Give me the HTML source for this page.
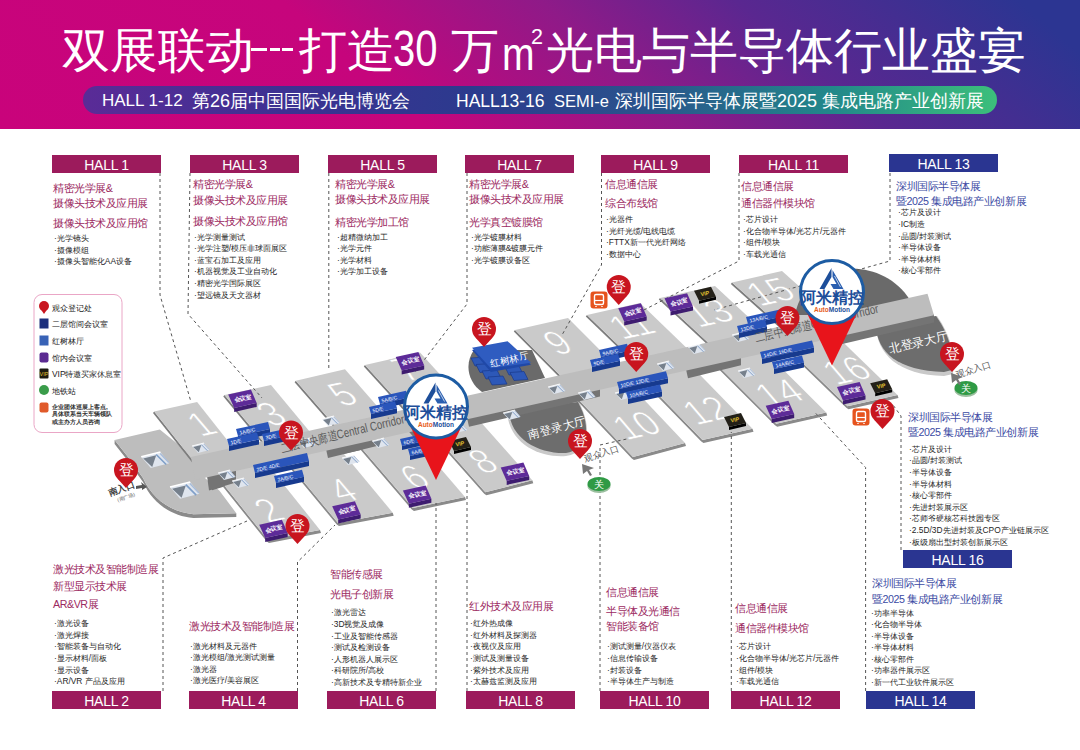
<!DOCTYPE html>
<html><head><meta charset="utf-8">
<style>
*{margin:0;padding:0;box-sizing:border-box}
html,body{width:1080px;height:750px;overflow:hidden;background:#fff;font-family:"Liberation Sans",sans-serif}
#hdr{position:absolute;left:0;top:0;width:1080px;height:129px;background:linear-gradient(41deg,#c9037b 0%,#c6057c 35%,#8f1a88 56%,#5a2790 72%,#2c3592 95%)}
#title span{position:absolute;top:27px;white-space:nowrap;color:#fff;font-size:47.5px;line-height:47.5px}
#title i{position:absolute;top:47.5px;height:3.2px;background:#fff}
#title .dg{font-size:50px;transform:scaleX(.8);transform-origin:0 0;top:24px;line-height:50px}
#title .m{font-size:46px;top:31px;line-height:46px;transform:scaleX(.85);transform-origin:0 0}
#title .sq{font-size:21.6px;top:26px;line-height:21.6px}
#pill{position:absolute;left:83px;top:86px;width:914px;height:28px;border-radius:14px;background:linear-gradient(90deg,#5a2b97 0%,#3d3192 22%,#2c3a8e 42%,#2a548c 62%,#22888a 82%,#3cbf7b 100%)}
#pill span{position:absolute;top:1px;line-height:28px;color:#fff;font-size:18px;white-space:nowrap}
.lab{position:absolute;width:109px;height:18px;color:#fff;font-size:14px;line-height:20px;overflow:hidden;letter-spacing:-0.3px;text-align:center;background:#9c1b5c}
.lab.b{background:#2a3591}
.t{position:absolute;white-space:nowrap;color:#9c2a5f;font-size:10.7px;line-height:14px;letter-spacing:-0.44px}
.t.b{color:#3b4aa3}
.it{position:absolute;white-space:nowrap;color:#1e1e1e;font-size:8.4px;line-height:11.6px}
svg{position:absolute;left:0;top:0}
</style></head><body>
<div id="hdr"></div>
<div id="title"><span style="left:62px">双展联动</span><i style="left:251px;width:16px"></i><i style="left:269.5px;width:10.5px"></i><i style="left:282px;width:10.5px"></i><span style="left:299px">打造</span><span class="dg" style="left:393px">30</span><span style="left:451px">万</span><span class="m" style="left:502px">m</span><span class="sq" style="left:531px">2</span><span style="left:546px">光电与半导体行业盛宴</span></div>
<div id="pill"><span style="left:19px;font-size:17px">HALL 1-12</span><span style="left:109px">第26届中国国际光电博览会</span><span style="left:373px;font-size:17.5px">HALL13-16</span><span style="left:471px;font-size:16.5px">SEMI-e</span><span style="left:532px">深圳国际半导体展暨2025 集成电路产业创新展</span></div>

<svg width="1080" height="750" viewBox="0 0 1080 750" style="position:absolute;left:0;top:0">
<path d="M114.6,440 L114.6,444 L128,461 L143,482 C152,502 170,516 193.4,518 L236.3,517 L236.3,513.2 L193.4,514.2 C170,512 152,498 143,478 L128,457 Z" fill="#8a8a8a"/>
<path d="M114.6,440 L159.8,429.6 L195,458 L205,478 L219.5,490.8 L236.3,513.2 L193.4,514.2 C170,512 152,498 143,478 L128,457 Z" fill="#bdbdbd"/>
<polygon points="153.0,413.0 154.2,411.5 195.7,464.0 194.5,465.5" fill="#7d7d7d"/>
<polygon points="154.2,411.5 197.1,402.1 238.6,454.6 195.7,464.0" fill="#cacaca"/>
<polygon points="223.3,396.5 224.5,395.0 268.5,448.0 267.3,449.5" fill="#7d7d7d"/>
<polygon points="224.5,395.0 271.0,385.0 315.0,438.0 268.5,448.0" fill="#cacaca"/>
<polygon points="294.6,382.3 295.8,380.8 340.6,432.3 339.4,433.8" fill="#7d7d7d"/>
<polygon points="295.8,380.8 345.0,369.2 390.3,421.2 340.6,432.3" fill="#cacaca"/>
<polygon points="363.8,366.5 365.0,365.0 411.9,416.5 410.7,418.0" fill="#7d7d7d"/>
<polygon points="365.0,365.0 420.0,352.5 466.9,404.0 411.9,416.5" fill="#cacaca"/>
<polygon points="513.8,331.5 515.0,330.0 566.8,382.0 565.6,383.5" fill="#7d7d7d"/>
<polygon points="515.0,330.0 568.0,318.0 619.8,370.0 566.8,382.0" fill="#cacaca"/>
<polygon points="585.8,316.5 587.0,315.0 639.9,366.0 638.7,367.5" fill="#7d7d7d"/>
<polygon points="587.0,315.0 640.0,303.0 692.9,354.0 639.9,366.0" fill="#cacaca"/>
<polygon points="658.8,299.5 660.0,298.0 715.0,349.0 713.8,350.5" fill="#7d7d7d"/>
<polygon points="660.0,298.0 715.0,286.0 770.0,337.0 715.0,349.0" fill="#cacaca"/>
<polygon points="730.8,284.0 732.0,282.5 788.5,333.0 787.3,334.5" fill="#7d7d7d"/>
<polygon points="732.0,282.5 782.0,271.0 838.5,321.5 788.5,333.0" fill="#cacaca"/>
<path d="M795,315 C805,260 880,253 910,300 L910,315 Z" fill="#6a6a6a"/>
<path d="M474,350 C464,364 468,382 482,392 L545,378 L532,350 Z" fill="#6a6a6a"/>
<path d="M507,410 C508,444 540,458 566,456 C587,453 594,432 579,402 Z" fill="#c9c9c9"/>
<path d="M509,410 C510,440 540,454 566,453 C586,450 593,430 578,402 Z" fill="#6d6d6d"/>
<path d="M876,326 C877,354 898,375 944,376 L953,374 C954,352 951,336 937,316 Z" fill="#c9c9c9"/>
<path d="M876,326 C877,352 898,371 944,372 L952,370 C953,352 950,336 936,316 Z" fill="#6d6d6d"/>
<polygon points="207.0,475.5 934.0,315.3 934.0,321.3 236.0,478.0 236.0,483.0 212.0,490.3" fill="#747474"/>
<polygon points="213.6,475.0 266.8,541.5 269.0,543.0 321.0,533.0 320.0,530.0 268.0,540.0 214.8,473.5" fill="#8a8a8a"/>
<polygon points="214.8,473.5 265.6,462.0 320.0,530.0 268.0,540.0" fill="#cacaca"/>
<polygon points="283.0,459.5 336.8,524.5 339.0,526.0 393.7,515.7 392.7,512.7 338.0,523.0 284.2,458.0" fill="#8a8a8a"/>
<polygon points="284.2,458.0 337.6,446.2 392.7,512.7 338.0,523.0" fill="#cacaca"/>
<polygon points="355.2,443.4 411.8,509.4 414.0,510.9 466.0,500.0 465.0,497.0 413.0,507.9 356.4,441.9" fill="#8a8a8a"/>
<polygon points="356.4,441.9 407.9,430.5 465.0,497.0 413.0,507.9" fill="#cacaca"/>
<polygon points="425.7,427.7 484.2,493.7 486.4,495.2 533.3,483.2 532.3,480.2 485.4,492.2 426.9,426.2" fill="#8a8a8a"/>
<polygon points="426.9,426.2 475.1,415.7 532.3,480.2 485.4,492.2" fill="#cacaca"/>
<polygon points="572.2,395.5 631.8,458.5 634.0,460.0 686.0,446.0 685.0,443.0 633.0,457.0 573.4,394.0" fill="#8a8a8a"/>
<polygon points="573.4,394.0 627.3,382.0 685.0,443.0 633.0,457.0" fill="#cacaca"/>
<polygon points="641.4,380.0 701.3,441.5 703.5,443.0 753.5,431.8 752.5,428.8 702.5,440.0 642.6,378.5" fill="#8a8a8a"/>
<polygon points="642.6,378.5 692.6,367.2 752.5,428.8 702.5,440.0" fill="#cacaca"/>
<polygon points="713.8,364.2 775.0,425.2 777.2,426.8 827.2,415.5 826.2,412.5 776.2,423.8 715.0,362.8" fill="#8a8a8a"/>
<polygon points="715.0,362.8 765.0,351.5 826.2,412.5 776.2,423.8" fill="#cacaca"/>
<polygon points="784.9,348.2 846.3,407.8 848.5,409.2 898.5,398.0 897.5,395.0 847.5,406.2 786.1,346.8" fill="#8a8a8a"/>
<polygon points="786.1,346.8 836.1,335.5 897.5,395.0 847.5,406.2" fill="#cacaca"/>
<polygon points="207.0,475.5 236.0,469.0 236.0,482.5 209.0,490.5" fill="#747474"/>
<polygon points="326.0,449.1 381.0,436.9 381.0,445.0 328.0,458.1" fill="#747474"/>
<polygon points="467.0,417.8 600.0,388.3 600.0,396.4 469.0,426.8" fill="#747474"/>
<polygon points="686.0,369.3 741.0,357.1 741.0,365.2 688.0,378.3" fill="#747474"/>
<polygon points="835.0,336.2 934.0,314.3 934.0,322.4 837.0,345.2" fill="#747474"/>
<polygon points="191.0,457.0 927.5,293.7 934.0,315.3 195.0,480.0" fill="#bdbdbd"/>
<polygon points="471.0,358.0 486.0,357.0 490.0,365.0 475.0,366.0" fill="#2d58b8" stroke="#1a3a8a" stroke-width="0.7"/>
<polygon points="476.0,364.5 491.0,363.5 495.0,371.5 480.0,372.5" fill="#2d58b8" stroke="#1a3a8a" stroke-width="0.7"/>
<polygon points="482.0,371.0 497.0,370.0 501.0,378.0 486.0,379.0" fill="#2d58b8" stroke="#1a3a8a" stroke-width="0.7"/>
<polygon points="488.0,377.0 503.0,376.0 507.0,384.0 492.0,385.0" fill="#2d58b8" stroke="#1a3a8a" stroke-width="0.7"/>
<polygon points="505.0,367.0 519.0,366.0 523.0,374.0 509.0,375.0" fill="#2d58b8" stroke="#1a3a8a" stroke-width="0.7"/>
<polygon points="510.0,372.5 524.0,371.5 528.0,379.5 514.0,380.5" fill="#2d58b8" stroke="#1a3a8a" stroke-width="0.7"/>
<polygon points="472,350 507.6,343.2 531,364.7 490.8,372" fill="#1f48a8"/>
<polygon points="472,347.7 507.6,341.2 531,362.7 490.8,368.3" fill="#2f5cc0"/>
<text x="0" y="0" transform="translate(491,367) rotate(-13)" font-size="9.5" fill="#fff" font-family="Liberation Sans, sans-serif">红树林厅</text>
<polyline points="160.0,173.0 160.0,295.0 191.0,402.0" fill="none" stroke="#555" stroke-width="1" stroke-dasharray="3,3"/>
<polyline points="190.0,173.0 188.0,314.0 262.0,398.0" fill="none" stroke="#555" stroke-width="1" stroke-dasharray="3,3"/>
<polyline points="328.8,173.0 328.8,370.0" fill="none" stroke="#555" stroke-width="1" stroke-dasharray="3,3"/>
<polyline points="467.0,173.0 467.0,304.0 415.0,372.0" fill="none" stroke="#555" stroke-width="1" stroke-dasharray="3,3"/>
<polyline points="601.5,173.0 601.5,265.0 562.0,335.0" fill="none" stroke="#555" stroke-width="1" stroke-dasharray="3,3"/>
<polyline points="739.0,173.0 739.0,261.0 640.0,312.0" fill="none" stroke="#555" stroke-width="1" stroke-dasharray="3,3"/>
<polyline points="890.0,173.0 890.0,261.0 714.0,310.0" fill="none" stroke="#555" stroke-width="1" stroke-dasharray="3,3"/>
<polyline points="163.0,691.0 163.0,558.0 247.0,521.0" fill="none" stroke="#555" stroke-width="1" stroke-dasharray="3,3"/>
<polyline points="297.5,691.0 297.5,562.0 335.0,525.0" fill="none" stroke="#555" stroke-width="1" stroke-dasharray="3,3"/>
<polyline points="436.0,691.0 436.0,503.0" fill="none" stroke="#555" stroke-width="1" stroke-dasharray="3,3"/>
<polyline points="467.0,691.0 467.0,480.0" fill="none" stroke="#555" stroke-width="1" stroke-dasharray="3,3"/>
<polyline points="600.0,691.0 600.0,445.0 640.0,436.0" fill="none" stroke="#555" stroke-width="1" stroke-dasharray="3,3"/>
<polyline points="731.3,691.0 731.3,432.0" fill="none" stroke="#555" stroke-width="1" stroke-dasharray="3,3"/>
<polyline points="865.6,691.0 865.6,467.5 815.0,412.5" fill="none" stroke="#555" stroke-width="1" stroke-dasharray="3,3"/>
<polyline points="901.0,550.0 901.0,416.0 893.0,405.0" fill="none" stroke="#555" stroke-width="1" stroke-dasharray="3,3"/>
<text transform="matrix(1.12,-0.24,0.85,1,210.5,434.75)" font-size="31" fill="#ffffff" stroke="#cacaca" stroke-width="0.6" text-anchor="middle" font-family="Liberation Sans, sans-serif">1</text>
<text transform="matrix(1.12,-0.24,0.85,1,280.5,424.75)" font-size="31" fill="#ffffff" stroke="#cacaca" stroke-width="0.6" text-anchor="middle" font-family="Liberation Sans, sans-serif">3</text>
<text transform="matrix(1.12,-0.24,0.85,1,351.75,404.75)" font-size="31" fill="#ffffff" stroke="#cacaca" stroke-width="0.6" text-anchor="middle" font-family="Liberation Sans, sans-serif">5</text>
<text transform="matrix(1.12,-0.24,0.85,1,278,521)" font-size="31" fill="#ffffff" stroke="#cacaca" stroke-width="0.6" text-anchor="middle" font-family="Liberation Sans, sans-serif">2</text>
<text transform="matrix(1.12,-0.24,0.85,1,351.75,501)" font-size="31" fill="#ffffff" stroke="#cacaca" stroke-width="0.6" text-anchor="middle" font-family="Liberation Sans, sans-serif">4</text>
<text transform="matrix(1.12,-0.24,0.85,1,423.5,487.6)" font-size="31" fill="#ffffff" stroke="#cacaca" stroke-width="0.6" text-anchor="middle" font-family="Liberation Sans, sans-serif">6</text>
<text transform="matrix(1.12,-0.24,0.85,1,492,472)" font-size="31" fill="#ffffff" stroke="#cacaca" stroke-width="0.6" text-anchor="middle" font-family="Liberation Sans, sans-serif">8</text>
<text transform="matrix(1.12,-0.24,0.85,1,415.5,379.75)" font-size="31" fill="#ffffff" stroke="#cacaca" stroke-width="0.6" text-anchor="middle" font-family="Liberation Sans, sans-serif">7</text>
<text transform="matrix(1.12,-0.24,0.85,1,566.75,353.5)" font-size="31" fill="#ffffff" stroke="#cacaca" stroke-width="0.6" text-anchor="middle" font-family="Liberation Sans, sans-serif">9</text>
<text transform="matrix(1.12,-0.24,0.85,1,645.5,436)" font-size="31" fill="#ffffff" stroke="#cacaca" stroke-width="0.6" text-anchor="middle" font-family="Liberation Sans, sans-serif">10</text>
<text transform="matrix(1.12,-0.24,0.85,1,640.5,336)" font-size="31" fill="#ffffff" stroke="#cacaca" stroke-width="0.6" text-anchor="middle" font-family="Liberation Sans, sans-serif">11</text>
<text transform="matrix(1.12,-0.24,0.85,1,715.5,421)" font-size="31" fill="#ffffff" stroke="#cacaca" stroke-width="0.6" text-anchor="middle" font-family="Liberation Sans, sans-serif">12</text>
<text transform="matrix(1.12,-0.24,0.85,1,718,323.5)" font-size="31" fill="#ffffff" stroke="#cacaca" stroke-width="0.6" text-anchor="middle" font-family="Liberation Sans, sans-serif">13</text>
<text transform="matrix(1.12,-0.24,0.85,1,788,403.5)" font-size="31" fill="#ffffff" stroke="#cacaca" stroke-width="0.6" text-anchor="middle" font-family="Liberation Sans, sans-serif">14</text>
<text transform="matrix(1.12,-0.24,0.85,1,779.25,302.25)" font-size="31" fill="#ffffff" stroke="#cacaca" stroke-width="0.6" text-anchor="middle" font-family="Liberation Sans, sans-serif">15</text>
<text transform="matrix(1.12,-0.24,0.85,1,855.5,381)" font-size="31" fill="#ffffff" stroke="#cacaca" stroke-width="0.6" text-anchor="middle" font-family="Liberation Sans, sans-serif">16</text>
<polygon points="141.2,456.8 160.4,452.0 169.2,463.2 150.8,468.0" fill="#dfe5ee"/>
<polygon points="143.2,458.5 156.2,455.2 152.2,467.0" fill="#76808c"/>
<polyline points="156.2,454.5 166.2,464.5" fill="none" stroke="#7f9fc8" stroke-width="1.6"/>
<polyline points="160.2,453.5 168.7,462.5" fill="none" stroke="#a8bcd8" stroke-width="1.4"/>
<polyline points="141.2,456.8 160.4,452.0" fill="none" stroke="#fff" stroke-width="1.4"/>
<polygon points="170.0,487.0 190.2,482.0 199.4,493.8 180.1,498.8" fill="#dfe5ee"/>
<polygon points="172.1,488.8 185.8,485.4 181.6,497.8" fill="#76808c"/>
<polyline points="185.8,484.6 196.2,495.1" fill="none" stroke="#7f9fc8" stroke-width="1.6800000000000002"/>
<polyline points="189.9,483.6 198.9,493.0" fill="none" stroke="#a8bcd8" stroke-width="1.47"/>
<polyline points="170.0,487.0 190.2,482.0" fill="none" stroke="#fff" stroke-width="1.47"/>
<polygon points="192.0,446.0 203.9,443.0 209.4,449.9 198.0,452.9" fill="#dfe5ee"/>
<polygon points="193.2,447.0 201.3,445.0 198.8,452.3" fill="#76808c"/>
<polyline points="201.3,444.6 207.5,450.8" fill="none" stroke="#7f9fc8" stroke-width="0.992"/>
<polyline points="203.8,443.9 209.1,449.5" fill="none" stroke="#a8bcd8" stroke-width="0.868"/>
<polyline points="192.0,446.0 203.9,443.0" fill="none" stroke="#fff" stroke-width="0.868"/>
<polygon points="218.0,473.0 229.9,470.0 235.4,476.9 224.0,479.9" fill="#dfe5ee"/>
<polygon points="219.2,474.0 227.3,472.0 224.8,479.3" fill="#76808c"/>
<polyline points="227.3,471.6 233.5,477.8" fill="none" stroke="#7f9fc8" stroke-width="0.992"/>
<polyline points="229.8,470.9 235.1,476.5" fill="none" stroke="#a8bcd8" stroke-width="0.868"/>
<polyline points="218.0,473.0 229.9,470.0" fill="none" stroke="#fff" stroke-width="0.868"/>
<polygon points="232.0,481.0 243.9,478.0 249.4,484.9 238.0,487.9" fill="#dfe5ee"/>
<polygon points="233.2,482.0 241.3,480.0 238.8,487.3" fill="#76808c"/>
<polyline points="241.3,479.6 247.5,485.8" fill="none" stroke="#7f9fc8" stroke-width="0.992"/>
<polyline points="243.8,478.9 249.1,484.5" fill="none" stroke="#a8bcd8" stroke-width="0.868"/>
<polyline points="232.0,481.0 243.9,478.0" fill="none" stroke="#fff" stroke-width="0.868"/>
<polygon points="298.0,441.0 309.9,438.0 315.4,444.9 304.0,447.9" fill="#dfe5ee"/>
<polygon points="299.2,442.0 307.3,440.0 304.8,447.3" fill="#76808c"/>
<polyline points="307.3,439.6 313.5,445.8" fill="none" stroke="#7f9fc8" stroke-width="0.992"/>
<polyline points="309.8,438.9 315.1,444.5" fill="none" stroke="#a8bcd8" stroke-width="0.868"/>
<polyline points="298.0,441.0 309.9,438.0" fill="none" stroke="#fff" stroke-width="0.868"/>
<polygon points="322.0,419.0 333.9,416.0 339.4,422.9 328.0,425.9" fill="#dfe5ee"/>
<polygon points="323.2,420.0 331.3,418.0 328.8,425.3" fill="#76808c"/>
<polyline points="331.3,417.6 337.5,423.8" fill="none" stroke="#7f9fc8" stroke-width="0.992"/>
<polyline points="333.8,416.9 339.1,422.5" fill="none" stroke="#a8bcd8" stroke-width="0.868"/>
<polyline points="322.0,419.0 333.9,416.0" fill="none" stroke="#fff" stroke-width="0.868"/>
<polygon points="342.0,458.0 353.9,455.0 359.4,461.9 348.0,464.9" fill="#dfe5ee"/>
<polygon points="343.2,459.0 351.3,457.0 348.8,464.3" fill="#76808c"/>
<polyline points="351.3,456.6 357.5,462.8" fill="none" stroke="#7f9fc8" stroke-width="0.992"/>
<polyline points="353.8,455.9 359.1,461.5" fill="none" stroke="#a8bcd8" stroke-width="0.868"/>
<polyline points="342.0,458.0 353.9,455.0" fill="none" stroke="#fff" stroke-width="0.868"/>
<polygon points="372.0,441.0 383.9,438.0 389.4,444.9 378.0,447.9" fill="#dfe5ee"/>
<polygon points="373.2,442.0 381.3,440.0 378.8,447.3" fill="#76808c"/>
<polyline points="381.3,439.6 387.5,445.8" fill="none" stroke="#7f9fc8" stroke-width="0.992"/>
<polyline points="383.8,438.9 389.1,444.5" fill="none" stroke="#a8bcd8" stroke-width="0.868"/>
<polyline points="372.0,441.0 383.9,438.0" fill="none" stroke="#fff" stroke-width="0.868"/>
<polygon points="450.0,426.0 461.9,423.0 467.4,429.9 456.0,432.9" fill="#dfe5ee"/>
<polygon points="451.2,427.0 459.3,425.0 456.8,432.3" fill="#76808c"/>
<polyline points="459.3,424.6 465.5,430.8" fill="none" stroke="#7f9fc8" stroke-width="0.992"/>
<polyline points="461.8,423.9 467.1,429.5" fill="none" stroke="#a8bcd8" stroke-width="0.868"/>
<polyline points="450.0,426.0 461.9,423.0" fill="none" stroke="#fff" stroke-width="0.868"/>
<polygon points="503.0,413.0 514.9,410.0 520.4,416.9 509.0,419.9" fill="#dfe5ee"/>
<polygon points="504.2,414.0 512.3,412.0 509.8,419.3" fill="#76808c"/>
<polyline points="512.3,411.6 518.5,417.8" fill="none" stroke="#7f9fc8" stroke-width="0.992"/>
<polyline points="514.8,410.9 520.0,416.5" fill="none" stroke="#a8bcd8" stroke-width="0.868"/>
<polyline points="503.0,413.0 514.9,410.0" fill="none" stroke="#fff" stroke-width="0.868"/>
<polygon points="578.0,393.0 589.9,390.0 595.4,396.9 584.0,399.9" fill="#dfe5ee"/>
<polygon points="579.2,394.0 587.3,392.0 584.8,399.3" fill="#76808c"/>
<polyline points="587.3,391.6 593.5,397.8" fill="none" stroke="#7f9fc8" stroke-width="0.992"/>
<polyline points="589.8,390.9 595.0,396.5" fill="none" stroke="#a8bcd8" stroke-width="0.868"/>
<polyline points="578.0,393.0 589.9,390.0" fill="none" stroke="#fff" stroke-width="0.868"/>
<polygon points="548.0,387.0 559.9,384.0 565.4,390.9 554.0,393.9" fill="#dfe5ee"/>
<polygon points="549.2,388.0 557.3,386.0 554.8,393.3" fill="#76808c"/>
<polyline points="557.3,385.6 563.5,391.8" fill="none" stroke="#7f9fc8" stroke-width="0.992"/>
<polyline points="559.8,384.9 565.0,390.5" fill="none" stroke="#a8bcd8" stroke-width="0.868"/>
<polyline points="548.0,387.0 559.9,384.0" fill="none" stroke="#fff" stroke-width="0.868"/>
<polygon points="596.0,359.0 607.9,356.0 613.4,362.9 602.0,365.9" fill="#dfe5ee"/>
<polygon points="597.2,360.0 605.3,358.0 602.8,365.3" fill="#76808c"/>
<polyline points="605.3,357.6 611.5,363.8" fill="none" stroke="#7f9fc8" stroke-width="0.992"/>
<polyline points="607.8,356.9 613.0,362.5" fill="none" stroke="#a8bcd8" stroke-width="0.868"/>
<polyline points="596.0,359.0 607.9,356.0" fill="none" stroke="#fff" stroke-width="0.868"/>
<polygon points="615.0,393.0 626.9,390.0 632.4,396.9 621.0,399.9" fill="#dfe5ee"/>
<polygon points="616.2,394.0 624.3,392.0 621.8,399.3" fill="#76808c"/>
<polyline points="624.3,391.6 630.5,397.8" fill="none" stroke="#7f9fc8" stroke-width="0.992"/>
<polyline points="626.8,390.9 632.0,396.5" fill="none" stroke="#a8bcd8" stroke-width="0.868"/>
<polyline points="615.0,393.0 626.9,390.0" fill="none" stroke="#fff" stroke-width="0.868"/>
<polygon points="657.0,364.0 668.9,361.0 674.4,367.9 663.0,370.9" fill="#dfe5ee"/>
<polygon points="658.2,365.0 666.3,363.0 663.8,370.3" fill="#76808c"/>
<polyline points="666.3,362.6 672.5,368.8" fill="none" stroke="#7f9fc8" stroke-width="0.992"/>
<polyline points="668.8,361.9 674.0,367.5" fill="none" stroke="#a8bcd8" stroke-width="0.868"/>
<polyline points="657.0,364.0 668.9,361.0" fill="none" stroke="#fff" stroke-width="0.868"/>
<polygon points="688.0,347.0 699.9,344.0 705.4,350.9 694.0,353.9" fill="#dfe5ee"/>
<polygon points="689.2,348.0 697.3,346.0 694.8,353.3" fill="#76808c"/>
<polyline points="697.3,345.6 703.5,351.8" fill="none" stroke="#7f9fc8" stroke-width="0.992"/>
<polyline points="699.8,344.9 705.0,350.5" fill="none" stroke="#a8bcd8" stroke-width="0.868"/>
<polyline points="688.0,347.0 699.9,344.0" fill="none" stroke="#fff" stroke-width="0.868"/>
<polygon points="732.0,335.0 743.9,332.0 749.4,338.9 738.0,341.9" fill="#dfe5ee"/>
<polygon points="733.2,336.0 741.3,334.0 738.8,341.3" fill="#76808c"/>
<polyline points="741.3,333.6 747.5,339.8" fill="none" stroke="#7f9fc8" stroke-width="0.992"/>
<polyline points="743.8,332.9 749.0,338.5" fill="none" stroke="#a8bcd8" stroke-width="0.868"/>
<polyline points="732.0,335.0 743.9,332.0" fill="none" stroke="#fff" stroke-width="0.868"/>
<polygon points="738.0,371.0 749.9,368.0 755.4,374.9 744.0,377.9" fill="#dfe5ee"/>
<polygon points="739.2,372.0 747.3,370.0 744.8,377.3" fill="#76808c"/>
<polyline points="747.3,369.6 753.5,375.8" fill="none" stroke="#7f9fc8" stroke-width="0.992"/>
<polyline points="749.8,368.9 755.0,374.5" fill="none" stroke="#a8bcd8" stroke-width="0.868"/>
<polyline points="738.0,371.0 749.9,368.0" fill="none" stroke="#fff" stroke-width="0.868"/>
<polygon points="810.0,320.0 821.9,317.0 827.4,323.9 816.0,326.9" fill="#dfe5ee"/>
<polygon points="811.2,321.0 819.3,319.0 816.8,326.3" fill="#76808c"/>
<polyline points="819.3,318.6 825.5,324.8" fill="none" stroke="#7f9fc8" stroke-width="0.992"/>
<polyline points="821.8,317.9 827.0,323.5" fill="none" stroke="#a8bcd8" stroke-width="0.868"/>
<polyline points="810.0,320.0 821.9,317.0" fill="none" stroke="#fff" stroke-width="0.868"/>
<polygon points="238.0,436.0 270.0,429.0 270.0,434.0 238.0,441.0" fill="#173a8f"/>
<polygon points="236.0,429.0 268.0,422.0 270.0,429.0 238.0,436.0" fill="#2a55bb"/>
<text transform="translate(240,434.5) rotate(-12.5)" font-size="5" fill="#fff" font-family="Liberation Sans, sans-serif">1A/B/C</text>
<polygon points="229.0,446.0 259.0,439.4 259.0,444.4 229.0,451.0" fill="#173a8f"/>
<polygon points="227.0,439.0 257.0,432.4 259.0,439.4 229.0,446.0" fill="#2a55bb"/>
<text transform="translate(231,444.5) rotate(-12.5)" font-size="5" fill="#fff" font-family="Liberation Sans, sans-serif">1D/E</text>
<polygon points="264.0,441.0 286.0,436.2 286.0,441.2 264.0,446.0" fill="#173a8f"/>
<polygon points="262.0,434.0 284.0,429.2 286.0,436.2 264.0,441.0" fill="#2a55bb"/>
<text transform="translate(266,439.5) rotate(-12.5)" font-size="5" fill="#fff" font-family="Liberation Sans, sans-serif">3D/E</text>
<polygon points="255.0,473.0 309.0,461.1 309.0,466.1 255.0,478.0" fill="#173a8f"/>
<polygon points="253.0,465.0 307.0,453.1 309.0,461.1 255.0,473.0" fill="#2a55bb"/>
<text transform="translate(257,471.5) rotate(-12.5)" font-size="5" fill="#fff" font-family="Liberation Sans, sans-serif">2D/E          4D/E</text>
<polygon points="276.0,483.0 304.0,476.8 304.0,481.8 276.0,488.0" fill="#173a8f"/>
<polygon points="274.0,476.0 302.0,469.8 304.0,476.8 276.0,483.0" fill="#2a55bb"/>
<text transform="translate(278,481.5) rotate(-12.5)" font-size="5" fill="#fff" font-family="Liberation Sans, sans-serif">2A/B/C</text>
<polygon points="380.0,404.0 408.0,397.8 408.0,402.8 380.0,409.0" fill="#173a8f"/>
<polygon points="378.0,397.0 406.0,390.8 408.0,397.8 380.0,404.0" fill="#2a55bb"/>
<text transform="translate(382,402.5) rotate(-12.5)" font-size="5" fill="#fff" font-family="Liberation Sans, sans-serif">5A/B/C</text>
<polygon points="371.0,414.0 397.0,408.3 397.0,413.3 371.0,419.0" fill="#173a8f"/>
<polygon points="369.0,407.0 395.0,401.3 397.0,408.3 371.0,414.0" fill="#2a55bb"/>
<text transform="translate(373,412.5) rotate(-12.5)" font-size="5" fill="#fff" font-family="Liberation Sans, sans-serif">5D/E</text>
<polygon points="402.0,446.0 428.0,440.3 428.0,444.3 402.0,450.0" fill="#173a8f"/>
<polygon points="400.0,439.0 426.0,433.3 428.0,440.3 402.0,446.0" fill="#2a55bb"/>
<text transform="translate(404,444.5) rotate(-12.5)" font-size="5" fill="#fff" font-family="Liberation Sans, sans-serif">6D/E</text>
<polygon points="410.0,456.0 432.0,451.2 432.0,455.2 410.0,460.0" fill="#173a8f"/>
<polygon points="408.0,449.0 430.0,444.2 432.0,451.2 410.0,456.0" fill="#2a55bb"/>
<text transform="translate(412,454.5) rotate(-12.5)" font-size="5" fill="#fff" font-family="Liberation Sans, sans-serif">6A/B/C</text>
<polygon points="601.0,357.0 629.0,350.8 629.0,355.8 601.0,362.0" fill="#173a8f"/>
<polygon points="599.0,350.0 627.0,343.8 629.0,350.8 601.0,357.0" fill="#2a55bb"/>
<text transform="translate(603,355.5) rotate(-12.5)" font-size="5" fill="#fff" font-family="Liberation Sans, sans-serif">9A/B/C</text>
<polygon points="592.0,367.0 620.0,360.8 620.0,365.8 592.0,372.0" fill="#173a8f"/>
<polygon points="590.0,360.0 618.0,353.8 620.0,360.8 592.0,367.0" fill="#2a55bb"/>
<text transform="translate(594,365.5) rotate(-12.5)" font-size="5" fill="#fff" font-family="Liberation Sans, sans-serif">9D/E</text>
<polygon points="619.0,389.0 668.0,378.2 668.0,383.2 619.0,394.0" fill="#173a8f"/>
<polygon points="617.0,382.0 666.0,371.2 668.0,378.2 619.0,389.0" fill="#2a55bb"/>
<text transform="translate(621,387.5) rotate(-12.5)" font-size="5" fill="#fff" font-family="Liberation Sans, sans-serif">10D/E      12D/E</text>
<polygon points="628.0,399.0 662.0,391.5 662.0,396.5 628.0,404.0" fill="#173a8f"/>
<polygon points="626.0,392.0 660.0,384.5 662.0,391.5 628.0,399.0" fill="#2a55bb"/>
<text transform="translate(630,397.5) rotate(-12.5)" font-size="5" fill="#fff" font-family="Liberation Sans, sans-serif">10A/B/C</text>
<polygon points="748.0,324.0 782.0,316.5 782.0,321.5 748.0,329.0" fill="#173a8f"/>
<polygon points="746.0,317.0 780.0,309.5 782.0,316.5 748.0,324.0" fill="#2a55bb"/>
<text transform="translate(750,322.5) rotate(-12.5)" font-size="5" fill="#fff" font-family="Liberation Sans, sans-serif">13A/B/C</text>
<polygon points="739.0,333.0 767.0,326.8 767.0,331.8 739.0,338.0" fill="#173a8f"/>
<polygon points="737.0,326.0 765.0,319.8 767.0,326.8 739.0,333.0" fill="#2a55bb"/>
<text transform="translate(741,331.5) rotate(-12.5)" font-size="5" fill="#fff" font-family="Liberation Sans, sans-serif">13D/E</text>
<polygon points="762.0,359.0 814.0,347.6 814.0,352.6 762.0,364.0" fill="#173a8f"/>
<polygon points="760.0,352.0 812.0,340.6 814.0,347.6 762.0,359.0" fill="#2a55bb"/>
<text transform="translate(764,357.5) rotate(-12.5)" font-size="5" fill="#fff" font-family="Liberation Sans, sans-serif">14D/E       16D/E</text>
<polygon points="774.0,369.0 804.0,362.4 804.0,367.4 774.0,374.0" fill="#173a8f"/>
<polygon points="772.0,362.0 802.0,355.4 804.0,362.4 774.0,369.0" fill="#2a55bb"/>
<text transform="translate(776,367.5) rotate(-12.5)" font-size="5" fill="#fff" font-family="Liberation Sans, sans-serif">14A/B/C</text>
<polygon points="234.2,407.9 256.7,402.9 256.7,406.9 234.2,411.9" fill="#3e1c70"/>
<polygon points="228.2,394.6 250.9,389.6 256.7,402.9 234.2,407.9" fill="#5d2b98"/>
<text transform="translate(234.5,402.25) rotate(-12.5)" font-size="6" font-weight="bold" fill="#fff" font-family="Liberation Sans, sans-serif">会议室</text>
<polygon points="401.7,370.4 424.2,365.4 424.2,369.4 401.7,374.4" fill="#3e1c70"/>
<polygon points="395.7,357.1 418.4,352.1 424.2,365.4 401.7,370.4" fill="#5d2b98"/>
<text transform="translate(402,364.75) rotate(-12.5)" font-size="6" font-weight="bold" fill="#fff" font-family="Liberation Sans, sans-serif">会议室</text>
<polygon points="265.2,538.1 287.7,533.1 287.7,537.1 265.2,542.1" fill="#3e1c70"/>
<polygon points="259.2,524.8 281.9,519.8 287.7,533.1 265.2,538.1" fill="#5d2b98"/>
<text transform="translate(265.5,532.5) rotate(-12.5)" font-size="6" font-weight="bold" fill="#fff" font-family="Liberation Sans, sans-serif">会议室</text>
<polygon points="338.2,519.6 360.7,514.6 360.7,518.6 338.2,523.6" fill="#3e1c70"/>
<polygon points="332.2,506.3 354.9,501.3 360.7,514.6 338.2,519.6" fill="#5d2b98"/>
<text transform="translate(338.5,514.0) rotate(-12.5)" font-size="6" font-weight="bold" fill="#fff" font-family="Liberation Sans, sans-serif">会议室</text>
<polygon points="408.9,503.7 431.4,498.7 431.4,502.7 408.9,507.7" fill="#3e1c70"/>
<polygon points="402.9,490.4 425.6,485.4 431.4,498.7 408.9,503.7" fill="#5d2b98"/>
<text transform="translate(409.2,498.1) rotate(-12.5)" font-size="6" font-weight="bold" fill="#fff" font-family="Liberation Sans, sans-serif">会议室</text>
<polygon points="506.7,480.9 529.2,475.9 529.2,479.9 506.7,484.9" fill="#3e1c70"/>
<polygon points="500.7,467.6 523.4,462.6 529.2,475.9 506.7,480.9" fill="#5d2b98"/>
<text transform="translate(507,475.3) rotate(-12.5)" font-size="6" font-weight="bold" fill="#fff" font-family="Liberation Sans, sans-serif">会议室</text>
<polygon points="624.2,321.6 646.7,316.6 646.7,320.6 624.2,325.6" fill="#3e1c70"/>
<polygon points="618.2,308.3 640.9,303.3 646.7,316.6 624.2,321.6" fill="#5d2b98"/>
<text transform="translate(624.5,316.0) rotate(-12.5)" font-size="6" font-weight="bold" fill="#fff" font-family="Liberation Sans, sans-serif">会议室</text>
<polygon points="670.5,311.6 693.0,306.6 693.0,310.6 670.5,315.6" fill="#3e1c70"/>
<polygon points="664.5,298.3 687.1,293.3 693.0,306.6 670.5,311.6" fill="#5d2b98"/>
<text transform="translate(670.75,306.0) rotate(-12.5)" font-size="6" font-weight="bold" fill="#fff" font-family="Liberation Sans, sans-serif">会议室</text>
<polygon points="771.7,419.1 794.2,414.1 794.2,418.1 771.7,423.1" fill="#3e1c70"/>
<polygon points="765.7,405.8 788.4,400.8 794.2,414.1 771.7,419.1" fill="#5d2b98"/>
<text transform="translate(772,413.5) rotate(-12.5)" font-size="6" font-weight="bold" fill="#fff" font-family="Liberation Sans, sans-serif">会议室</text>
<polygon points="843.0,400.4 865.5,395.4 865.5,399.4 843.0,404.4" fill="#3e1c70"/>
<polygon points="837.0,387.1 859.6,382.1 865.5,395.4 843.0,400.4" fill="#5d2b98"/>
<text transform="translate(843.25,394.75) rotate(-12.5)" font-size="6" font-weight="bold" fill="#fff" font-family="Liberation Sans, sans-serif">会议室</text>
<polygon points="454.0,451.0 471.0,447.0 471.0,450.0 454.0,454.0" fill="#000"/>
<polygon points="449.0,441.0 466.0,437.0 471.0,447.0 454.0,451.0" fill="#232018"/>
<text transform="translate(456,446.5) rotate(-12.5)" font-size="5.5" font-weight="bold" fill="#e0c030" font-family="Liberation Sans, sans-serif">VIP</text>
<polygon points="699.0,300.8 716.0,296.8 716.0,299.8 699.0,303.8" fill="#000"/>
<polygon points="694.0,290.8 711.0,286.8 716.0,296.8 699.0,300.8" fill="#232018"/>
<text transform="translate(701,296.25) rotate(-12.5)" font-size="5.5" font-weight="bold" fill="#e0c030" font-family="Liberation Sans, sans-serif">VIP</text>
<polygon points="729.0,427.0 746.0,423.0 746.0,426.0 729.0,430.0" fill="#000"/>
<polygon points="724.0,417.0 741.0,413.0 746.0,423.0 729.0,427.0" fill="#232018"/>
<text transform="translate(731,422.5) rotate(-12.5)" font-size="5.5" font-weight="bold" fill="#e0c030" font-family="Liberation Sans, sans-serif">VIP</text>
<polygon points="875.2,393.2 892.2,389.2 892.2,392.2 875.2,396.2" fill="#000"/>
<polygon points="870.2,383.2 887.2,379.2 892.2,389.2 875.2,393.2" fill="#232018"/>
<text transform="translate(877.25,388.75) rotate(-12.5)" font-size="5.5" font-weight="bold" fill="#e0c030" font-family="Liberation Sans, sans-serif">VIP</text>
<text transform="translate(282,452.5) rotate(-13.5) scale(0.78,1)" font-size="12.5" fill="#5a5a5a" font-family="Liberation Sans, sans-serif">二层中央廊道Central Corridor</text>
<text transform="translate(756,342) rotate(-13.5) scale(0.78,1)" font-size="12.5" fill="#5a5a5a" font-family="Liberation Sans, sans-serif">二层中央廊道Central Corridor</text>
<text transform="translate(890,353) rotate(-13)" font-size="12" fill="#fff" font-family="Liberation Sans, sans-serif">北登录大厅</text>
<text transform="translate(529,439) rotate(-15)" font-size="11.5" fill="#fff" font-family="Liberation Sans, sans-serif">南登录大厅</text>
<rect x="590.5" y="291.5" width="17" height="17" rx="3" fill="#e6531d"/>
<rect x="594.5" y="294.5" width="9" height="10" rx="1.5" fill="none" stroke="#fff" stroke-width="1.4"/>
<line x1="594.5" y1="300.5" x2="603.5" y2="300.5" stroke="#fff" stroke-width="1.2"/>
<line x1="596" y1="306" x2="596" y2="307" stroke="#fff" stroke-width="1.4"/><line x1="602" y1="306" x2="602" y2="307" stroke="#fff" stroke-width="1.4"/>
<rect x="852.5" y="408.5" width="17" height="17" rx="3" fill="#e6531d"/>
<rect x="856.5" y="411.5" width="9" height="10" rx="1.5" fill="none" stroke="#fff" stroke-width="1.4"/>
<line x1="856.5" y1="417.5" x2="865.5" y2="417.5" stroke="#fff" stroke-width="1.2"/>
<line x1="858" y1="423" x2="858" y2="424" stroke="#fff" stroke-width="1.4"/><line x1="864" y1="423" x2="864" y2="424" stroke="#fff" stroke-width="1.4"/>
<ellipse cx="599" cy="486" rx="11.5" ry="7" fill="#9bbf9f"/>
<ellipse cx="599" cy="484" rx="11.5" ry="7" fill="#2f9a45"/>
<text x="599" y="487.5" font-size="10" fill="#fff" text-anchor="middle" font-family="Liberation Sans, sans-serif">关</text>
<ellipse cx="966" cy="390" rx="11.5" ry="7" fill="#9bbf9f"/>
<ellipse cx="966" cy="388" rx="11.5" ry="7" fill="#2f9a45"/>
<text x="966" y="391.5" font-size="10" fill="#fff" text-anchor="middle" font-family="Liberation Sans, sans-serif">关</text>
<text transform="translate(585,462) rotate(-18)" font-size="9" fill="#555" font-family="Liberation Sans, sans-serif">观众入口</text>
<text transform="translate(957,378) rotate(-18)" font-size="9" fill="#555" font-family="Liberation Sans, sans-serif">观众入口</text>
<polygon points="582,464 594,468 589,470 592,475 590,476 587,471 583,474" fill="#777"/>
<polygon points="951,373 963,377 958,379 961,384 959,385 956,380 952,383" fill="#777"/>
<text transform="translate(110,496) rotate(-20)" font-size="9" font-weight="bold" fill="#444" font-family="Liberation Sans, sans-serif">南入口</text>
<text transform="translate(118,502) rotate(-20)" font-size="5" fill="#666" font-family="Liberation Sans, sans-serif">(南广场)</text>
<polygon points="136,486 142,485 141,482 147,487 142,490 142,488 136,489" fill="#555"/>
<path d="M117.36,478.4 L126,488 L134.64,478.4 Z" fill="#c8151f"/>
<circle cx="126" cy="470" r="12" fill="#c8151f"/>
<text x="126" y="475.2" font-size="15" fill="#fff" text-anchor="middle" font-family="Liberation Sans, sans-serif">登</text>
<path d="M282.36,440.9 L291,450.5 L299.64,440.9 Z" fill="#c8151f"/>
<circle cx="291" cy="432.5" r="12" fill="#c8151f"/>
<text x="291" y="437.7" font-size="15" fill="#fff" text-anchor="middle" font-family="Liberation Sans, sans-serif">登</text>
<path d="M288.86,534.4 L297.5,544 L306.14,534.4 Z" fill="#c8151f"/>
<circle cx="297.5" cy="526" r="12" fill="#c8151f"/>
<text x="297.5" y="531.2" font-size="15" fill="#fff" text-anchor="middle" font-family="Liberation Sans, sans-serif">登</text>
<path d="M475.36,337.4 L484,347 L492.64,337.4 Z" fill="#c8151f"/>
<circle cx="484" cy="329" r="12" fill="#c8151f"/>
<text x="484" y="334.2" font-size="15" fill="#fff" text-anchor="middle" font-family="Liberation Sans, sans-serif">登</text>
<path d="M571.36,449.4 L580,459 L588.64,449.4 Z" fill="#c8151f"/>
<circle cx="580" cy="441" r="12" fill="#c8151f"/>
<text x="580" y="446.2" font-size="15" fill="#fff" text-anchor="middle" font-family="Liberation Sans, sans-serif">登</text>
<path d="M610.11,295.4 L618.75,305 L627.39,295.4 Z" fill="#c8151f"/>
<circle cx="618.75" cy="287" r="12" fill="#c8151f"/>
<text x="618.75" y="292.2" font-size="15" fill="#fff" text-anchor="middle" font-family="Liberation Sans, sans-serif">登</text>
<path d="M627.61,362.4 L636.25,372 L644.89,362.4 Z" fill="#c8151f"/>
<circle cx="636.25" cy="354" r="12" fill="#c8151f"/>
<text x="636.25" y="359.2" font-size="15" fill="#fff" text-anchor="middle" font-family="Liberation Sans, sans-serif">登</text>
<path d="M778.86,326.4 L787.5,336 L796.14,326.4 Z" fill="#c8151f"/>
<circle cx="787.5" cy="318" r="12" fill="#c8151f"/>
<text x="787.5" y="323.2" font-size="15" fill="#fff" text-anchor="middle" font-family="Liberation Sans, sans-serif">登</text>
<path d="M873.86,419.4 L882.5,429 L891.14,419.4 Z" fill="#c8151f"/>
<circle cx="882.5" cy="411" r="12" fill="#c8151f"/>
<text x="882.5" y="416.2" font-size="15" fill="#fff" text-anchor="middle" font-family="Liberation Sans, sans-serif">登</text>
<path d="M943.36,362.4 L952,372 L960.64,362.4 Z" fill="#c8151f"/>
<circle cx="952" cy="354" r="12" fill="#c8151f"/>
<text x="952" y="359.2" font-size="15" fill="#fff" text-anchor="middle" font-family="Liberation Sans, sans-serif">登</text>
<path d="M409,423.5 L436,480.0 L463,423.5 Z" fill="#e8141b"/>
<circle cx="436" cy="406.5" r="31.5" fill="#fff" stroke="#1d5ca3" stroke-width="3"/>
<path d="M435.5,382.5 L423.5,403.5 L428.5,403.5 L435.5,391.5 Z" fill="#1d4e9a"/>
<path d="M436.5,384.5 L447.5,403.5 L437.5,403.5 L434.5,398.5 L440.5,398.5 L436.5,391.5 Z" fill="#2a5fb0"/>
<line x1="438.5" y1="390.5" x2="444.5" y2="401.5" stroke="#fff" stroke-width="0.7"/>
<text x="436" y="417.5" font-size="15.5" font-weight="bold" fill="#1d4e9a" text-anchor="middle" font-family="Liberation Sans, sans-serif">阿米精控</text>
<text x="436" y="426.5" font-size="6.5" font-weight="bold" text-anchor="middle" font-family="Liberation Sans, sans-serif"><tspan fill="#e8601c">Auto</tspan><tspan fill="#1d4e9a">Motion</tspan></text>
<path d="M805,309 L832,365.5 L859,309 Z" fill="#e8141b"/>
<circle cx="832" cy="292" r="31.5" fill="#fff" stroke="#1d5ca3" stroke-width="3"/>
<path d="M831.5,268 L819.5,289 L824.5,289 L831.5,277 Z" fill="#1d4e9a"/>
<path d="M832.5,270 L843.5,289 L833.5,289 L830.5,284 L836.5,284 L832.5,277 Z" fill="#2a5fb0"/>
<line x1="834.5" y1="276" x2="840.5" y2="287" stroke="#fff" stroke-width="0.7"/>
<text x="832" y="303" font-size="15.5" font-weight="bold" fill="#1d4e9a" text-anchor="middle" font-family="Liberation Sans, sans-serif">阿米精控</text>
<text x="832" y="312" font-size="6.5" font-weight="bold" text-anchor="middle" font-family="Liberation Sans, sans-serif"><tspan fill="#e8601c">Auto</tspan><tspan fill="#1d4e9a">Motion</tspan></text>
<rect x="34" y="294.5" width="88" height="138" rx="8" fill="#fff" stroke="#eaa6c6" stroke-width="1"/>
<circle cx="44" cy="306" r="5" fill="#c8151f"/><path d="M40.5,309 L44,314 L47.5,309 Z" fill="#c8151f"/>
<rect x="39.5" y="318.5" width="9" height="10" fill="#1d2f7c"/>
<rect x="39.5" y="335.5" width="9" height="10" fill="#3862b6"/>
<rect x="39.5" y="352.5" width="9" height="10" rx="2" fill="#5b2a91"/>
<rect x="39.5" y="368.5" width="9" height="10" rx="1" fill="#1c1a10"/><text x="44" y="376" font-size="5.5" fill="#e0c030" text-anchor="middle" font-family="Liberation Sans, sans-serif">VIP</text>
<circle cx="44" cy="390" r="5" fill="#3a9c4a"/>
<rect x="39.5" y="402.5" width="9" height="10" rx="2" fill="#e05a2a"/>
<text x="52" y="310.5" font-size="8.4" fill="#222" font-family="Liberation Sans, sans-serif">观众登记处</text>
<text x="52" y="327" font-size="8.4" fill="#222" font-family="Liberation Sans, sans-serif">二层馆间会议室</text>
<text x="52" y="344" font-size="8.4" fill="#222" font-family="Liberation Sans, sans-serif">红树林厅</text>
<text x="52" y="361" font-size="8.4" fill="#222" font-family="Liberation Sans, sans-serif">馆内会议室</text>
<text x="52" y="376.8" font-size="8.4" fill="#222" font-family="Liberation Sans, sans-serif">VIP特邀买家休息室</text>
<text x="52" y="393.5" font-size="8.4" fill="#222" font-family="Liberation Sans, sans-serif">地铁站</text>
<text x="52" y="408.5" font-size="6.3" font-weight="bold" fill="#333" font-family="Liberation Sans, sans-serif">企业团体巡展上客点,</text>
<text x="52" y="416" font-size="6.3" font-weight="bold" fill="#333" font-family="Liberation Sans, sans-serif">具体联系当天车辆领队</text>
<text x="52" y="423.5" font-size="6.3" font-weight="bold" fill="#333" font-family="Liberation Sans, sans-serif">或主办方人员咨询</text>
</svg>
<!-- labels top -->
<div class="lab" style="left:52px;top:155px">HALL 1</div>
<div class="lab" style="left:190px;top:155px">HALL 3</div>
<div class="lab" style="left:328px;top:155px">HALL 5</div>
<div class="lab" style="left:465px;top:155px">HALL 7</div>
<div class="lab" style="left:601px;top:155px">HALL 9</div>
<div class="lab" style="left:739px;top:155px">HALL 11</div>
<div class="lab b" style="left:889px;top:154px">HALL 13</div>
<!-- labels bottom -->
<div class="lab" style="left:52px;top:691px">HALL 2</div>
<div class="lab" style="left:189px;top:691px">HALL 4</div>
<div class="lab" style="left:327px;top:691px">HALL 6</div>
<div class="lab" style="left:466px;top:691px">HALL 8</div>
<div class="lab" style="left:600px;top:691px">HALL 10</div>
<div class="lab" style="left:731px;top:691px">HALL 12</div>
<div class="lab b" style="left:866px;top:691px">HALL 14</div>
<div class="lab b" style="left:903px;top:550px">HALL 16</div>

<!-- HALL 1 -->
<div class="t" style="left:53px;top:181px">精密光学展&amp;</div>
<div class="t" style="left:53px;top:195.5px">摄像头技术及应用展</div>
<div class="t" style="left:53px;top:215.5px">摄像头技术及应用馆</div>
<div class="it" style="left:54px;top:233px">·光学镜头<br>·摄像模组<br>·摄像头智能化AA设备</div>
<!-- HALL 3 -->
<div class="t" style="left:193px;top:177px">精密光学展&amp;</div>
<div class="t" style="left:193px;top:192.5px">摄像头技术及应用展</div>
<div class="t" style="left:193px;top:214px">摄像头技术及应用馆</div>
<div class="it" style="left:194px;top:231.7px">·光学测量测试<br>·光学注塑/模压非球面展区<br>·蓝宝石加工及应用<br>·机器视觉及工业自动化<br>·精密光学国际展区<br>·望远镜及天文器材</div>
<!-- HALL 5 -->
<div class="t" style="left:335px;top:177px">精密光学展&amp;</div>
<div class="t" style="left:335px;top:192px">摄像头技术及应用展</div>
<div class="t" style="left:335px;top:214.5px">精密光学加工馆</div>
<div class="it" style="left:337px;top:231.7px">·超精微纳加工<br>·光学元件<br>·光学材料<br>·光学加工设备</div>
<!-- HALL 7 -->
<div class="t" style="left:469px;top:177px">精密光学展&amp;</div>
<div class="t" style="left:469px;top:192px">摄像头技术及应用展</div>
<div class="t" style="left:469px;top:214.5px">光学真空镀膜馆</div>
<div class="it" style="left:471px;top:231.7px">·光学镀膜材料<br>·功能薄膜&amp;镀膜元件<br>·光学镀膜设备区</div>
<!-- HALL 9 -->
<div class="t" style="left:605px;top:177px">信息通信展</div>
<div class="t" style="left:605px;top:195.5px">综合布线馆</div>
<div class="it" style="left:606px;top:214.2px">·光器件<br>·光纤光缆/电线电缆<br>·FTTX新一代光纤网络<br>·数据中心</div>
<!-- HALL 11 -->
<div class="t" style="left:741px;top:179px">信息通信展</div>
<div class="t" style="left:741px;top:195.5px">通信器件模块馆</div>
<div class="it" style="left:743px;top:214.2px">·芯片设计<br>·化合物半导体/光芯片/元器件<br>·组件/模块<br>·车载光通信</div>
<!-- HALL 13 -->
<div class="t b" style="left:896px;top:178.7px">深圳国际半导体展</div>
<div class="t b" style="left:896px;top:194.2px">暨2025 集成电路产业创新展</div>
<div class="it" style="left:898px;top:207.4px">·芯片及设计<br>·IC制造<br>·晶圆/封装测试<br>·半导体设备<br>·半导体材料<br>·核心零部件</div>

<!-- HALL 2 -->
<div class="t" style="left:53px;top:561.5px">激光技术及智能制造展</div>
<div class="t" style="left:53px;top:579px">新型显示技术展</div>
<div class="t" style="left:53px;top:597px">AR&amp;VR展</div>
<div class="it" style="left:54px;top:618.2px">·激光设备<br>·激光焊接<br>·智能装备与自动化<br>·显示材料/面板<br>·显示设备<br>·AR/VR 产品及应用</div>
<!-- HALL 4 -->
<div class="t" style="left:189px;top:619.4px">激光技术及智能制造展</div>
<div class="it" style="left:190px;top:640.6px">·激光材料及元器件<br>·激光模组/激光测试测量<br>·激光器<br>·激光医疗/美容展区</div>
<!-- HALL 6 -->
<div class="t" style="left:330px;top:566.6px">智能传感展</div>
<div class="t" style="left:330px;top:586.6px">光电子创新展</div>
<div class="it" style="left:331px;top:607.4px">·激光雷达<br>·3D视觉及成像<br>·工业及智能传感器<br>·测试及检测设备<br>·人形机器人展示区<br>·科研院所/高校<br>·高新技术及专精特新企业</div>
<!-- HALL 8 -->
<div class="t" style="left:469px;top:598.6px">红外技术及应用展</div>
<div class="it" style="left:470px;top:618.2px">·红外热成像<br>·红外材料及探测器<br>·夜视仪及应用<br>·测试及测量设备<br>·紫外技术及应用<br>·太赫兹监测及应用</div>
<!-- HALL 10 -->
<div class="t" style="left:606px;top:584.7px">信息通信展</div>
<div class="t" style="left:606px;top:603.6px">半导体及光通信</div>
<div class="t" style="left:606px;top:618.8px">智能装备馆</div>
<div class="it" style="left:607px;top:641.4px">·测试测量/仪器仪表<br>·信息传输设备<br>·封装设备<br>·半导体生产与制造</div>
<!-- HALL 12 -->
<div class="t" style="left:735px;top:601.3px">信息通信展</div>
<div class="t" style="left:735px;top:620.8px">通信器件模块馆</div>
<div class="it" style="left:736px;top:641.4px">·芯片设计<br>·化合物半导体/光芯片/元器件<br>·组件/模块<br>·车载光通信</div>
<!-- HALL 14 -->
<div class="t b" style="left:872px;top:576.3px">深圳国际半导体展</div>
<div class="t b" style="left:872px;top:591.9px">暨2025 集成电路产业创新展</div>
<div class="it" style="left:871px;top:607.5px">·功率半导体<br>·化合物半导体<br>·半导体设备<br>·半导体材料<br>·核心零部件<br>·功率器件展示区<br>·新一代工业软件展示区</div>
<!-- HALL 16 -->
<div class="t b" style="left:908px;top:410.3px">深圳国际半导体展</div>
<div class="t b" style="left:908px;top:425.4px">暨2025 集成电路产业创新展</div>
<div class="it" style="left:909px;top:443.9px">·芯片及设计<br>·晶圆/封装测试<br>·半导体设备<br>·半导体材料<br>·核心零部件<br>·先进封装展示区<br>·芯师爷硬核芯科技园专区<br>·2.5D/3D先进封装及CPO产业链展示区<br>·板级扇出型封装创新展示区</div>

</body></html>
